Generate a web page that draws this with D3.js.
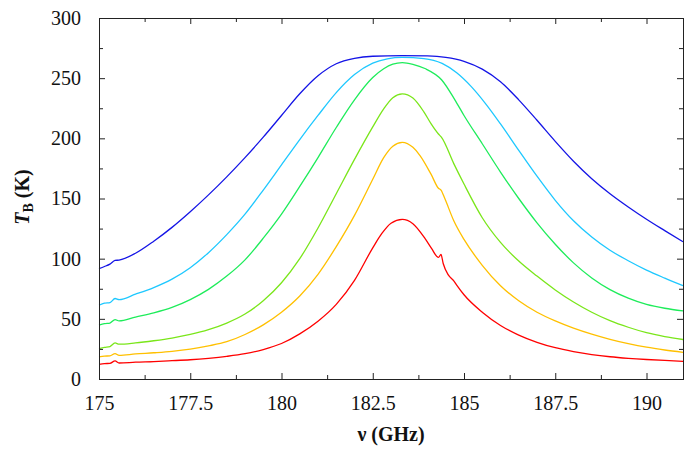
<!DOCTYPE html>
<html>
<head>
<meta charset="utf-8">
<script src="https://cdn.jsdelivr.net/npm/d3@7"></script>
<style>
  body { margin: 0; background: #fff; }
  svg { display: block; }
  svg text { font-family: 'Liberation Serif', 'Times New Roman', 'DejaVu Serif', serif; }
</style>
</head>
<body>
<script>
// metrics
const width = 699, height = 450;
const margin = {top: 18, right: 16, bottom: 71, left: 99};

// data: [frequency (GHz), brightness temperature (K)]
const xMajor = [175, 177.5, 180, 182.5, 185, 187.5, 190];
const xMinor = [176.25, 178.75, 181.25, 183.75, 186.25, 188.75];
const yMajor = [0, 50, 100, 150, 200, 250, 300];
const yMinor = [25, 75, 125, 175, 225, 275];

const blue = [[175,91.8],[175.15,93.5],[175.3,95.5],[175.44,98.5],[175.55,98.8],[176,104.5],[176.5,114.5],[177,126],[177.5,139],[178,153],[178.5,168],[179,184],[179.5,201],[180,219],[180.5,237],[181,252],[181.5,262],[182,266.5],[182.5,268.2],[183.31,268.7],[184,268.5],[184.5,267.3],[185,264],[185.5,257.5],[186,247],[186.5,232],[187,215],[187.5,197.5],[188,181],[188.5,166.5],[189,154],[189.5,143],[190,132.8],[190.5,123.3],[191,114]];
const cyan = [[175,61.3],[175.15,63],[175.3,63.5],[175.44,66.9],[175.55,66],[176,70.5],[176.5,76],[177,83],[177.5,92.5],[178,105],[178.5,120],[179,137],[179.5,157],[180,178],[180.5,199],[181,219],[181.5,238],[182,253],[182.5,262.5],[182.9,266],[183.31,267.2],[183.9,266.3],[184.4,262.3],[184.8,254.5],[185.2,243],[185.6,228.5],[186,212],[186.5,190],[187,168.5],[187.5,148.5],[188,131.5],[188.5,118],[189,107],[189.5,98.3],[190,90.5],[190.5,83.8],[191,77.5]];
const green = [[175,44.7],[175.15,46],[175.3,46.5],[175.44,49.4],[175.55,48.3],[176,51.5],[176.5,55],[177,59.5],[177.5,66],[178,74.5],[178.5,85.5],[179,99],[179.5,117],[180,137],[180.5,160],[181,184],[181.5,209],[182,232],[182.5,250.5],[182.8,257.8],[183.05,261.6],[183.31,262.9],[183.6,261.5],[183.93,258],[184.39,248.5],[184.75,232],[185,219],[185.5,195.5],[186,172],[186.5,150],[187,129.8],[187.5,112],[188,96.5],[188.5,84],[189,74.3],[189.5,67.2],[190,62],[190.5,58.8],[191,56.6]];
const yellowGreen = [[175,25.3],[175.15,26.3],[175.3,27],[175.44,30],[175.55,28.9],[176,30],[176.5,31.8],[177,34],[177.5,37],[178,41],[178.5,46.5],[179,54],[179.5,65],[180,80],[180.5,100],[181,125.5],[181.5,154],[182,182.5],[182.5,209.5],[182.8,224.5],[183.05,233.8],[183.31,236.9],[183.6,233.5],[183.9,222],[184.1,212],[184.3,203.6],[184.38,201],[184.72,179],[185,162],[185.5,134],[186,113.5],[186.5,98],[187,85.5],[187.5,74],[188,64],[188.5,55.5],[189,48.5],[189.5,43],[190,38.5],[190.5,35.3],[191,32.8]];
const orange = [[175,18.3],[175.15,19],[175.3,19.3],[175.44,21.1],[175.55,19.6],[176,20.8],[176.5,21.8],[177,23],[177.5,24.8],[178,27.5],[178.5,31],[179,37],[179.5,45],[180,55.5],[180.5,69],[181,87],[181.5,110],[182,136],[182.5,166],[182.8,184],[183.05,193.5],[183.31,196.7],[183.6,192.5],[183.8,185.5],[184.1,170],[184.3,158.5],[184.37,157],[184.48,149.5],[184.72,131.5],[185,116],[185.5,94.5],[186,77.5],[186.5,65],[187,55.5],[187.5,48.3],[188,42.3],[188.5,37.3],[189,33],[189.5,29.4],[190,26.4],[190.5,24.1],[191,22.2]];
const red = [[175,12.2],[175.15,12.8],[175.3,13],[175.44,15],[175.55,13.3],[176,14],[176.5,14.5],[177,15.2],[177.5,16],[178,17.2],[178.5,18.8],[179,21],[179.5,24.5],[180,29.5],[180.5,37.5],[181,48],[181.5,62],[182,82],[182.5,109],[182.75,121],[183,129.5],[183.31,132.6],[183.6,129],[183.93,116.8],[184.11,108.5],[184.3,101],[184.37,103.5],[184.43,96],[184.57,86.5],[184.72,81.5],[184.8,78],[185,70],[185.5,55.5],[186,44.5],[186.5,36.5],[187,30.5],[187.5,26],[188,22.8],[188.5,20.3],[189,18.5],[189.5,17.2],[190,16.2],[190.5,15.4],[191,14.7]];

const series = [
  {values: red, color: '#ff0000'},
  {values: orange, color: '#ffc000'},
  {values: yellowGreen, color: '#7ae61a'},
  {values: green, color: '#1eec5a'},
  {values: cyan, color: '#1ec8ff'},
  {values: blue, color: '#1414e6'}
];

// elements
const svg = d3.select('body').append('svg')
    .attr('width', width)
    .attr('height', height)
    .attr('font-family', "'Liberation Serif', 'Times New Roman', serif");

// scales
const xScale = d3.scaleLinear()
    .domain([175, 191])
    .range([margin.left, width - margin.right]);
const yScale = d3.scaleLinear()
    .domain([0, 300])
    .range([height - margin.bottom, margin.top]);

const axisColor = '#222';

// curves
const line = d3.line()
    .x(d => xScale(d[0]))
    .y(d => yScale(d[1]))
    .curve(d3.curveMonotoneX);

const plot = svg.append('g');
series.forEach(s => {
  plot.append('path')
      .datum(s.values)
      .attr('fill', 'none')
      .attr('stroke', s.color)
      .attr('stroke-width', 1.3)
      .attr('d', line);
});

// axes
const styleAxis = g => {
  g.attr('font-family', null).attr('font-size', null);
  g.selectAll('path, line').attr('stroke', axisColor).attr('stroke-width', 1);
  g.selectAll('text')
      .attr('fill', '#111')
      .attr('font-size', 20);
};

const yBottom = height - margin.bottom, yTop = margin.top;
const xLeft = margin.left, xRight = width - margin.right;

svg.append('g')
    .attr('transform', `translate(0, ${yBottom})`)
    .call(d3.axisBottom(xScale).tickValues(xMajor).tickSize(-6).tickSizeOuter(0)
        .tickPadding(17).tickFormat(d => d))
    .call(styleAxis);
svg.append('g')
    .attr('transform', `translate(0, ${yBottom})`)
    .call(d3.axisBottom(xScale).tickValues(xMinor).tickSize(-4).tickFormat(''))
    .call(styleAxis);
svg.append('g')
    .attr('transform', `translate(0, ${yTop})`)
    .call(d3.axisTop(xScale).tickValues(xMajor).tickSize(-6).tickSizeOuter(0).tickFormat(''))
    .call(styleAxis);
svg.append('g')
    .attr('transform', `translate(0, ${yTop})`)
    .call(d3.axisTop(xScale).tickValues(xMinor).tickSize(-4).tickFormat(''))
    .call(styleAxis);

svg.append('g')
    .attr('transform', `translate(${xLeft}, 0)`)
    .call(d3.axisLeft(yScale).tickValues(yMajor).tickSize(-6).tickSizeOuter(0)
        .tickPadding(18))
    .call(styleAxis);
svg.append('g')
    .attr('transform', `translate(${xLeft}, 0)`)
    .call(d3.axisLeft(yScale).tickValues(yMinor).tickSize(-4).tickFormat(''))
    .call(styleAxis);
svg.append('g')
    .attr('transform', `translate(${xRight}, 0)`)
    .call(d3.axisRight(yScale).tickValues(yMajor).tickSize(-6).tickSizeOuter(0).tickFormat(''))
    .call(styleAxis);
svg.append('g')
    .attr('transform', `translate(${xRight}, 0)`)
    .call(d3.axisRight(yScale).tickValues(yMinor).tickSize(-4).tickFormat(''))
    .call(styleAxis);

// axis titles
svg.append('text')
    .attr('x', (xLeft + xRight) / 2)
    .attr('y', 441)
    .attr('text-anchor', 'middle')
    .attr('font-size', 20)
    .attr('font-weight', 'bold')
    .attr('fill', '#111')
    .text('ν (GHz)');

const yTitle = svg.append('text')
    .attr('transform', `translate(29, 197) rotate(-90)`)
    .attr('text-anchor', 'middle')
    .attr('font-size', 20)
    .attr('font-weight', 'bold')
    .attr('fill', '#111');
yTitle.append('tspan').attr('font-style', 'italic').text('T');
yTitle.append('tspan').attr('dy', 4).attr('font-size', 14).text('B');
yTitle.append('tspan').attr('dy', -4).text(' (K)');
</script>
</body>
</html>
